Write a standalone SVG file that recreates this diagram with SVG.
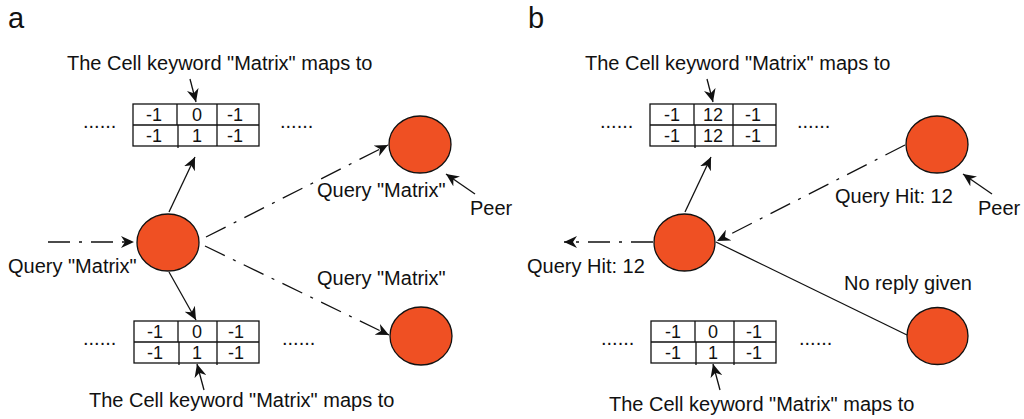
<svg xmlns="http://www.w3.org/2000/svg" width="1024" height="419" viewBox="0 0 1024 419">
<style>
text{font-family:"Liberation Sans",Arial,sans-serif;font-size:20px;fill:#111}
.lbl{font-size:29px}
.c{text-anchor:middle;font-size:18px}
.peer{fill:#EF5023;stroke:#111;stroke-width:1.3}
.tbl{fill:#fff;stroke:#111;stroke-width:1.3}
.grid{stroke:#111;stroke-width:1.3;fill:none}
.arr{stroke:#111;stroke-width:1.3;fill:none;marker-end:url(#ah)}
.dd{stroke-dasharray:22 9 3 9}
.ln{stroke:#111;stroke-width:1.3;fill:none}
</style>
<defs>
<marker id="ah" markerUnits="userSpaceOnUse" markerWidth="14" markerHeight="12" viewBox="0 0 14 12" refX="13" refY="6" orient="auto">
<path d="M0,0 L13,6 L0,12 L4,6 z" fill="#111"/>
</marker>
</defs>

<text class="lbl" x="8" y="28">a</text>
<text class="lbl" x="528" y="28">b</text>

<!-- Panel a -->
<g id="a-top-caption"><text x="67" y="70">The Cell keyword "Matrix" maps to</text></g>
<g id="a-top-table">
<rect class="tbl" x="133" y="104" width="126" height="42"/>
<path class="grid" d="M133,125H259M177,104V125M178,125V148M217,104V146"/>
<text class="c" x="154" y="120.5">-1</text><text class="c" x="197" y="120.5">0</text><text class="c" x="235" y="120.5">-1</text>
<text class="c" x="154" y="141.5">-1</text><text class="c" x="197" y="141.5">1</text><text class="c" x="235" y="141.5">-1</text>
<text x="83" y="128">......</text><text x="280" y="128">......</text>
</g>
<g id="a-center-peer"><ellipse class="peer" cx="168" cy="242.5" rx="31" ry="28.5"/></g>
<g id="a-top-peer"><ellipse class="peer" cx="420" cy="144.5" rx="31" ry="28.5"/></g>
<g id="a-bottom-peer"><ellipse class="peer" cx="421" cy="336" rx="31" ry="29"/></g>
<g id="a-bottom-table">
<rect class="tbl" x="134" y="321" width="125" height="42"/>
<path class="grid" d="M134,342H259M178,321V342M179,342V365M217,321V365"/>
<text class="c" x="155" y="337.5">-1</text><text class="c" x="197" y="337.5">0</text><text class="c" x="236" y="337.5">-1</text>
<text class="c" x="155" y="358.5">-1</text><text class="c" x="197" y="358.5">1</text><text class="c" x="236" y="358.5">-1</text>
<text x="83" y="345">......</text><text x="282" y="345">......</text>
</g>
<g id="a-bottom-caption"><text x="89" y="407">The Cell keyword "Matrix" maps to</text></g>
<g id="a-labels">
<text x="8" y="273">Query "Matrix"</text>
<text x="317" y="197">Query "Matrix"</text>
<text x="317" y="285">Query "Matrix"</text>
<text x="470" y="215">Peer</text>
</g>

<!-- Panel b -->
<g id="b-top-caption"><text x="585" y="70">The Cell keyword "Matrix" maps to</text></g>
<g id="b-top-table">
<rect class="tbl" x="650" y="104" width="126" height="42"/>
<path class="grid" d="M650,125H776M694,104V125M695,125V148M733,104V146"/>
<text class="c" x="672" y="120.5">-1</text><text class="c" x="713" y="120.5">12</text><text class="c" x="753" y="120.5">-1</text>
<text class="c" x="672" y="141.5">-1</text><text class="c" x="713" y="141.5">12</text><text class="c" x="753" y="141.5">-1</text>
<text x="600" y="128">......</text><text x="797" y="128">......</text>
</g>
<g id="b-center-peer"><ellipse class="peer" cx="684.5" cy="242.5" rx="30.5" ry="28.5"/></g>
<g id="b-top-peer"><ellipse class="peer" cx="937" cy="144.5" rx="31" ry="28.5"/></g>
<g id="b-bottom-peer"><ellipse class="peer" cx="937.5" cy="336" rx="30.5" ry="28.5"/></g>
<g id="b-bottom-table">
<rect class="tbl" x="651" y="321" width="125" height="42"/>
<path class="grid" d="M651,342H776M695,321V342M696,342V365M734,321V365"/>
<text class="c" x="673" y="337.5">-1</text><text class="c" x="713" y="337.5">0</text><text class="c" x="754" y="337.5">-1</text>
<text class="c" x="673" y="358.5">-1</text><text class="c" x="713" y="358.5">1</text><text class="c" x="754" y="358.5">-1</text>
<text x="601" y="345">......</text><text x="799" y="345">......</text>
</g>
<g id="b-bottom-caption"><text x="609" y="411">The Cell keyword "Matrix" maps to</text></g>
<g id="b-labels">
<text x="527" y="273">Query Hit: 12</text>
<text x="835" y="203">Query Hit: 12</text>
<text x="844" y="290">No reply given</text>
<text x="978" y="215">Peer</text>
</g>

<g id="connectors">
<line class="arr" x1="190" y1="79" x2="196" y2="102"/>
<line class="arr" x1="169" y1="212" x2="195" y2="157"/>
<line class="arr dd" x1="48" y1="242" x2="134" y2="242"/>
<line class="arr dd" x1="206" y1="237" x2="388" y2="145"/>
<line class="arr" x1="475" y1="194" x2="446" y2="174"/>
<line class="arr dd" x1="205" y1="246" x2="389" y2="335"/>
<line class="arr" x1="169" y1="272" x2="196" y2="320"/>
<line class="arr" x1="204" y1="390" x2="197" y2="364"/>

<line class="arr" x1="707" y1="79" x2="713" y2="102"/>
<line class="arr" x1="685" y1="212" x2="711" y2="157"/>
<line class="arr dd" x1="653" y1="242" x2="564" y2="242"/>
<line class="arr dd" x1="905" y1="145" x2="717" y2="241"/>
<line class="arr" x1="992" y1="194" x2="963" y2="174"/>
<line class="ln" x1="716" y1="242" x2="907" y2="335"/>
<line class="arr" x1="720" y1="390" x2="713" y2="364"/>
</g>
</svg>
